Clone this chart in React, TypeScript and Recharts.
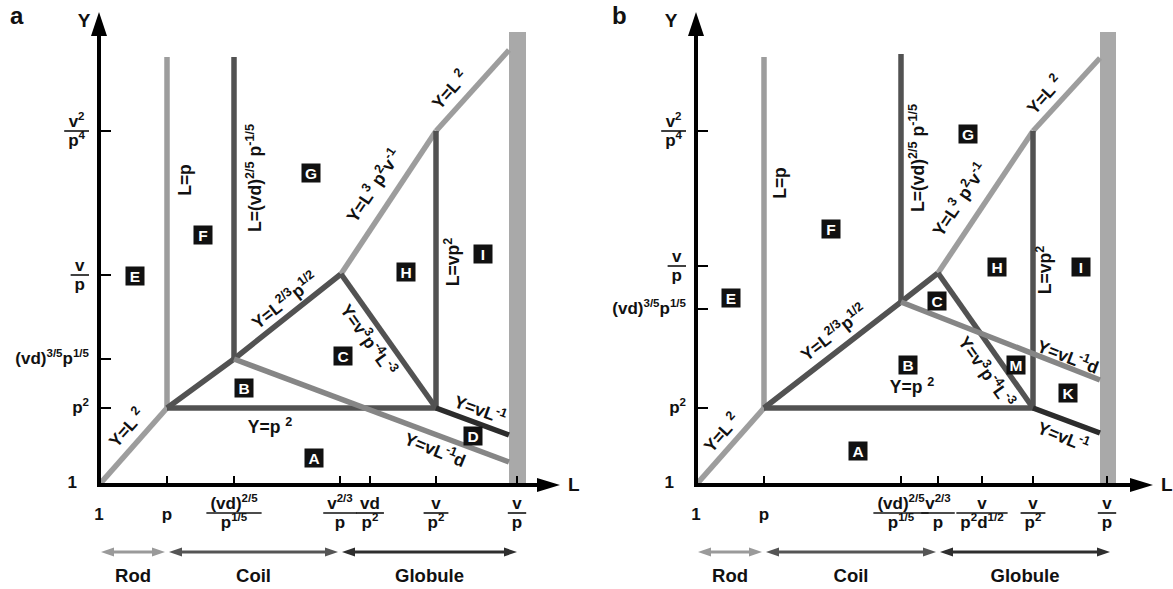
import React from 'react';
import { ComposedChart, Line, XAxis, YAxis, ReferenceArea, ReferenceDot, ReferenceLine } from 'recharts';

type Pt = { x: number; y: number };
type Tick = { v: number; text?: string; num?: string; den?: string };

const FONT = '"Liberation Sans", Arial, Helvetica, sans-serif';
const FS = 17;
const CURVE_FS = 17.5;

// ---------- panel a ----------
const xTicksA: Tick[] = [
  { v: 0, text: '1' },
  { v: 6.8, text: 'p' },
  { v: 13.5, num: '(vd)^{2/5}', den: 'p^{1/5}' },
  { v: 24.1, num: 'v^{2/3}', den: 'p' },
  { v: 27.1, num: 'vd', den: 'p^{2}' },
  { v: 33.7, num: 'v', den: 'p^{2}' },
  { v: 41.8, num: 'v', den: 'p' },
];
const yTicksA: Tick[] = [
  { v: 0, text: '1' },
  { v: 7.7, text: 'p^{2}' },
  { v: 12.6, text: '(vd)^{3/5}p^{1/5}' },
  { v: 21.0, num: 'v', den: 'p' },
  { v: 35.4, num: 'v^{2}', den: 'p^{4}' },
];

const rodA: Pt[] = [{ x: 0, y: 0 }, { x: 6.8, y: 7.7 }];
const lpA: Pt[] = [{ x: 6.8, y: 7.7 }, { x: 6.8, y: 42.8 }];
const lvdA: Pt[] = [{ x: 13.5, y: 12.6 }, { x: 13.5, y: 42.8 }];
const yp2A: Pt[] = [{ x: 6.8, y: 7.7 }, { x: 33.7, y: 7.7 }];
const coilTopA: Pt[] = [{ x: 6.8, y: 7.7 }, { x: 13.5, y: 12.6 }, { x: 24.2, y: 21.1 }];
const globTopA: Pt[] = [{ x: 24.2, y: 21.1 }, { x: 33.7, y: 35.4 }];
const rodTopA: Pt[] = [{ x: 33.7, y: 35.4 }, { x: 41.0, y: 43.5 }];
const collapseA: Pt[] = [{ x: 24.2, y: 21.1 }, { x: 33.7, y: 7.7 }];
const lvp2A: Pt[] = [{ x: 33.7, y: 7.7 }, { x: 33.7, y: 35.4 }];
const yvlA: Pt[] = [{ x: 33.7, y: 7.7 }, { x: 41.0, y: 5.0 }];
const yvldA: Pt[] = [{ x: 13.5, y: 12.6 }, { x: 41.0, y: 2.3 }];
const barA = [41.0, 42.7];

const regionsA = [
  { id: 'E', x: 3.6, y: 20.9 },
  { id: 'F', x: 10.4, y: 25.0 },
  { id: 'G', x: 21.2, y: 31.2 },
  { id: 'H', x: 30.7, y: 21.3 },
  { id: 'I', x: 38.4, y: 23.1 },
  { id: 'B', x: 14.5, y: 9.7 },
  { id: 'C', x: 24.4, y: 12.9 },
  { id: 'A', x: 21.5, y: 2.7 },
  { id: 'D', x: 37.4, y: 4.9 },
];
const curvesA = [
  { text: 'L=p', x: 8.6, y: 30.5, angle: -90 },
  { text: 'L=(vd)^{2/5} p^{-1/5}', x: 15.6, y: 30.7, angle: -90 },
  { text: 'Y=L^{2/3}p^{1/2}', x: 18.6, y: 18.4, angle: -38 },
  { text: 'Y=L ^{2}', x: 2.8, y: 5.7, angle: -48 },
  { text: 'Y=p ^{2}', x: 17.1, y: 5.8, angle: 0 },
  { text: 'Y=L^{3} p^{2}v^{-1}', x: 27.5, y: 29.9, angle: -56 },
  { text: 'Y=L ^{2}', x: 35.1, y: 39.5, angle: -48 },
  { text: 'L=vp^{2}', x: 35.4, y: 22.3, angle: -90 },
  { text: 'Y=v^{3}p^{-4}L^{-3}', x: 26.9, y: 14.5, angle: 55 },
  { text: 'Y=vL^{-1}', x: 38.1, y: 7.5, angle: 20 },
  { text: 'Y=vL^{-1}d', x: 33.6, y: 3.5, angle: 22 },
];
const phasesA = [
  { name: 'Rod', from: 0, to: 6.8 },
  { name: 'Coil', from: 6.8, to: 24.1 },
  { name: 'Globule', from: 24.1, to: 42.0 },
];

// ---------- panel b ----------
const xTicksB: Tick[] = [
  { v: 0, text: '1' },
  { v: 6.8, text: 'p' },
  { v: 20.5, num: '(vd)^{2/5}', den: 'p^{1/5}' },
  { v: 24.2, num: 'v^{2/3}', den: 'p' },
  { v: 28.6, num: 'v', den: 'p^{2}d^{1/2}' },
  { v: 33.7, num: 'v', den: 'p^{2}' },
  { v: 41.1, num: 'v', den: 'p' },
];
const yTicksB: Tick[] = [
  { v: 0, text: '1' },
  { v: 7.7, text: 'p^{2}' },
  { v: 17.6, text: '(vd)^{3/5}p^{1/5}' },
  { v: 21.9, num: 'v', den: 'p' },
  { v: 35.4, num: 'v^{2}', den: 'p^{4}' },
];

const rodB: Pt[] = [{ x: 0, y: 0 }, { x: 6.8, y: 7.7 }];
const lpB: Pt[] = [{ x: 6.8, y: 7.7 }, { x: 6.8, y: 42.8 }];
const lvdB: Pt[] = [{ x: 20.5, y: 18.3 }, { x: 20.5, y: 43.1 }];
const yp2B: Pt[] = [{ x: 6.8, y: 7.7 }, { x: 33.7, y: 7.7 }];
const coilTopB: Pt[] = [{ x: 6.8, y: 7.7 }, { x: 20.5, y: 18.3 }, { x: 24.2, y: 21.2 }];
const globTopB: Pt[] = [{ x: 24.2, y: 21.2 }, { x: 33.7, y: 35.4 }];
const rodTopB: Pt[] = [{ x: 33.7, y: 35.4 }, { x: 40.4, y: 42.7 }];
const collapseB: Pt[] = [{ x: 24.2, y: 21.2 }, { x: 33.7, y: 7.7 }];
const lvp2B: Pt[] = [{ x: 33.7, y: 7.7 }, { x: 33.7, y: 35.4 }];
const yvlB: Pt[] = [{ x: 33.7, y: 7.7 }, { x: 40.4, y: 5.2 }];
const yvldB: Pt[] = [{ x: 20.5, y: 18.3 }, { x: 40.4, y: 10.5 }];
const barB = [40.4, 42.0];

const regionsB = [
  { id: 'E', x: 3.5, y: 18.7 },
  { id: 'F', x: 13.5, y: 25.6 },
  { id: 'G', x: 27.2, y: 35.1 },
  { id: 'H', x: 30.1, y: 21.8 },
  { id: 'I', x: 38.5, y: 21.8 },
  { id: 'C', x: 24.1, y: 18.4 },
  { id: 'B', x: 21.2, y: 12.0 },
  { id: 'M', x: 32.0, y: 12.0 },
  { id: 'K', x: 37.2, y: 9.2 },
  { id: 'A', x: 16.2, y: 3.4 },
];
const curvesB = [
  { text: 'L=p', x: 8.4, y: 30.2, angle: -90 },
  { text: 'L=(vd)^{2/5} p^{-1/5}', x: 22.2, y: 32.7, angle: -90 },
  { text: 'Y=L^{2/3}p^{1/2}', x: 13.8, y: 15.2, angle: -38 },
  { text: 'Y=L ^{2}', x: 2.6, y: 5.2, angle: -48 },
  { text: 'Y=p ^{2}', x: 21.6, y: 9.8, angle: 0 },
  { text: 'Y=L^{3} p^{2}v^{-1}', x: 26.4, y: 28.5, angle: -56 },
  { text: 'Y=L ^{2}', x: 34.9, y: 39.0, angle: -48 },
  { text: 'L=vp^{2}', x: 34.9, y: 21.5, angle: -90 },
  { text: 'Y=v^{3}p^{-4}L^{-3}', x: 29.0, y: 11.3, angle: 55 },
  { text: 'Y=vL^{-1}d', x: 37.2, y: 12.8, angle: 21 },
  { text: 'Y=vL^{-1}', x: 36.7, y: 4.8, angle: 22 },
];
const phasesB = [
  { name: 'Rod', from: 0, to: 6.8 },
  { name: 'Coil', from: 6.8, to: 24.2 },
  { name: 'Globule', from: 24.2, to: 41.6 },
];

const TONES: Record<string, string> = {
  light: '#9d9d9d',
  mid: '#868686',
  dark: '#525252',
  black: '#2c2c2c',
};
const PHASE_COLORS: Record<string, string> = { Rod: '#9a9a9a', Coil: '#555555', Globule: '#2e2e2e' };

// ---------- text helpers ----------
const CW: Record<string, number> = {
  '(': 0.333, ')': 0.333, '/': 0.278, '-': 0.333, '=': 0.584, ' ': 0.278,
  v: 0.556, d: 0.611, p: 0.611, L: 0.611, Y: 0.667,
};

function parts(s: string) {
  return s.split(/(\^\{[^}]*\})/).filter(Boolean);
}

function textW(s: string, fs: number) {
  let w = 0;
  parts(s).forEach((p) => {
    const sup = p.startsWith('^{');
    const body = sup ? p.slice(2, -1) : p;
    const size = sup ? fs * 0.68 : fs;
    for (const ch of body) w += (CW[ch] ?? 0.556) * size;
  });
  return w;
}

function rich(s: string, fs: number, ratio = 0.68) {
  let raised = false;
  return parts(s).map((p, i) => {
    if (p.startsWith('^{')) {
      const el = (
        <tspan key={i} dy={raised ? 0 : -fs * 0.42} fontSize={fs * ratio}>
          {p.slice(2, -1)}
        </tspan>
      );
      raised = true;
      return el;
    }
    const el = (
      <tspan key={i} dy={raised ? fs * 0.42 : 0} fontSize={fs}>
        {p}
      </tspan>
    );
    raised = false;
    return el;
  });
}

const Fraction = ({ cx, barY, num, den }: { cx: number; barY: number; num: string; den: string }) => {
  const w = Math.max(textW(num, FS), textW(den, FS)) + 8;
  const common = { textAnchor: 'middle' as const, fontFamily: FONT, fontWeight: 'bold', fill: '#111' };
  return (
    <g>
      <text x={cx} y={barY - 4} {...common}>{rich(num, FS)}</text>
      <line x1={cx - w / 2} x2={cx + w / 2} y1={barY} y2={barY} stroke="#111" strokeWidth={1.6} />
      <text x={cx} y={barY + 15} {...common}>{rich(den, FS)}</text>
    </g>
  );
};

const XTick = ({ x, y, payload, ticks }: any) => {
  const t = ticks.find((k: Tick) => Math.abs(k.v - payload.value) < 1e-6);
  if (!t) return null;
  return (
    <g>
      {t.v > 0 && <line x1={x} x2={x} y1={y} y2={y - 9} stroke="#000" strokeWidth={2} />}
      {t.text ? (
        <text x={x} y={y + 35} textAnchor="middle" fontFamily={FONT} fontWeight="bold" fill="#111">
          {rich(t.text, FS)}
        </text>
      ) : (
        <Fraction cx={x} barY={y + 28} num={t.num} den={t.den} />
      )}
    </g>
  );
};

const YTick = ({ x, y, payload, ticks }: any) => {
  const t = ticks.find((k: Tick) => Math.abs(k.v - payload.value) < 1e-6);
  if (!t) return null;
  const right = x - 10;
  return (
    <g>
      {t.v > 0 && <line x1={x} x2={x + 12} y1={y} y2={y} stroke="#000" strokeWidth={2} />}
      {t.text ? (
        <text
          x={t.v === 0 ? x - 22 : right}
          y={y + (t.v === 0 ? 3 : 5)}
          textAnchor="end"
          fontFamily={FONT}
          fontWeight="bold"
          fill="#111"
        >
          {rich(t.text, FS)}
        </text>
      ) : (
        <Fraction
          cx={right - (Math.max(textW(t.num, FS), textW(t.den, FS)) + 8) / 2}
          barY={y}
          num={t.num}
          den={t.den}
        />
      )}
    </g>
  );
};

const RegionBox = ({ cx, cy, id }: any) => (
  <g>
    <rect x={cx - 9.5} y={cy - 9.5} width={19} height={19} fill="#111" />
    <text x={cx} y={cy + 5.5} textAnchor="middle" fill="#fff" fontFamily={FONT} fontWeight="bold" fontSize={15.5}>
      {id}
    </text>
  </g>
);

const CurveText = ({ cx, cy, text, angle }: any) => (
  <text
    x={cx}
    y={cy + 6}
    textAnchor="middle"
    transform={`rotate(${angle} ${cx} ${cy})`}
    fontFamily={FONT}
    fontWeight="bold"
    fill="#111"
  >
    {rich(text, CURVE_FS, 0.72)}
  </text>
);

const PhaseArrow = ({ x1, y1, x2, color, name }: any) => {
  const a = x1 + 2;
  const b = x2 - 2;
  return (
    <g>
      <line x1={a + 8} x2={b - 8} y1={y1} y2={y1} stroke={color} strokeWidth={3} />
      <polygon points={`${a},${y1} ${a + 13},${y1 - 4.5} ${a + 13},${y1 + 4.5}`} fill={color} />
      <polygon points={`${b},${y1} ${b - 13},${y1 - 4.5} ${b - 13},${y1 + 4.5}`} fill={color} />
      <text x={(a + b) / 2} y={y1 + 30} textAnchor="middle" fontFamily={FONT} fontWeight="bold" fontSize={18.5} fill="#111">
        {name}
      </text>
    </g>
  );
};

type PanelProps = {
  width: number;
  plotLeft: number;
  marginRight: number;
  xMax: number;
  yLabelDx: number;
  xTicks: Tick[];
  yTicks: Tick[];
  series: { pts: Pt[]; tone: string }[];
  bar: number[];
  regions: { id: string; x: number; y: number }[];
  curves: { text: string; x: number; y: number; angle: number }[];
  phases: { name: string; from: number; to: number }[];
};

const Panel = ({ width, plotLeft, marginRight, xMax, yLabelDx, xTicks, yTicks, series, bar, regions, curves, phases }: PanelProps) => {
  const axisLine = { stroke: '#000', strokeWidth: 4, strokeLinecap: 'square' };
  return (
    <ComposedChart width={width} height={589} margin={{ top: 35, right: marginRight, bottom: 74, left: 0 }}>
      <XAxis
        type="number"
        dataKey="x"
        domain={[0, xMax]}
        allowDataOverflow
        ticks={xTicks.map((t) => t.v)}
        interval={0}
        tickSize={0}
        tickMargin={0}
        tickLine={false}
        axisLine={axisLine as any}
        height={30}
        tick={(p: any) => <XTick {...p} ticks={xTicks} />}
      />
      <YAxis
        type="number"
        dataKey="y"
        domain={[0, 45]}
        allowDataOverflow
        ticks={yTicks.map((t) => t.v)}
        interval={0}
        tickSize={0}
        tickMargin={0}
        tickLine={false}
        axisLine={axisLine as any}
        width={plotLeft}
        tick={(p: any) => <YTick {...p} ticks={yTicks} />}
      />
      <ReferenceArea x1={bar[0]} x2={bar[1]} y1={0} y2={45.3} fill="#a9a9a9" fillOpacity={1} stroke="none" ifOverflow="visible" />
      {series.map((s, i) => (
        <Line
          key={i}
          data={s.pts}
          dataKey="y"
          type="linear"
          stroke={TONES[s.tone]}
          strokeWidth={5.5}
          strokeLinejoin="round"
          dot={false}
          activeDot={false}
          legendType="none"
          isAnimationActive={false}
        />
      ))}
      <ReferenceDot
        x={0}
        y={45}
        ifOverflow="visible"
        shape={(p: any) => (
          <g>
            <polygon points={`${p.cx},${p.cy - 23} ${p.cx - 8},${p.cy + 1} ${p.cx + 8},${p.cy + 1}`} fill="#000" />
            <text x={p.cx + yLabelDx} y={p.cy - 8} textAnchor="middle" fontFamily={FONT} fontWeight="bold" fontSize={19} fill="#111">
              Y
            </text>
          </g>
        )}
      />
      <ReferenceDot
        x={xMax}
        y={0}
        ifOverflow="visible"
        shape={(p: any) => (
          <g>
            <polygon points={`${p.cx + 22},${p.cy} ${p.cx - 1},${p.cy - 7} ${p.cx - 1},${p.cy + 7}`} fill="#000" />
            <text x={p.cx + 30} y={p.cy + 6} fontFamily={FONT} fontWeight="bold" fontSize={19} fill="#111">
              L
            </text>
          </g>
        )}
      />
      {curves.map((c, i) => (
        <ReferenceDot key={`c${i}`} x={c.x} y={c.y} ifOverflow="visible" shape={(p: any) => <CurveText cx={p.cx} cy={p.cy} text={c.text} angle={c.angle} />} />
      ))}
      {regions.map((r) => (
        <ReferenceDot key={r.id} x={r.x} y={r.y} ifOverflow="visible" shape={(p: any) => <RegionBox cx={p.cx} cy={p.cy} id={r.id} />} />
      ))}
      {phases.map((ph) => (
        <ReferenceLine
          key={ph.name}
          segment={[{ x: ph.from, y: -6.7 }, { x: ph.to, y: -6.7 }]}
          ifOverflow="visible"
          shape={(p: any) => <PhaseArrow {...p} color={PHASE_COLORS[ph.name]} name={ph.name} />}
        />
      ))}
    </ComposedChart>
  );
};

// draw order: dark boundaries first, the mid-grey Y=vL^-1 d line crosses over them
const seriesA = [
  { pts: rodA, tone: 'light' },
  { pts: lpA, tone: 'light' },
  { pts: lvdA, tone: 'dark' },
  { pts: yp2A, tone: 'dark' },
  { pts: coilTopA, tone: 'dark' },
  { pts: globTopA, tone: 'light' },
  { pts: rodTopA, tone: 'light' },
  { pts: collapseA, tone: 'dark' },
  { pts: lvp2A, tone: 'dark' },
  { pts: yvlA, tone: 'black' },
  { pts: yvldA, tone: 'mid' },
];
const seriesB = [
  { pts: rodB, tone: 'light' },
  { pts: lpB, tone: 'light' },
  { pts: lvdB, tone: 'dark' },
  { pts: yp2B, tone: 'dark' },
  { pts: coilTopB, tone: 'dark' },
  { pts: globTopB, tone: 'light' },
  { pts: rodTopB, tone: 'light' },
  { pts: collapseB, tone: 'dark' },
  { pts: lvp2B, tone: 'dark' },
  { pts: yvlB, tone: 'black' },
  { pts: yvldB, tone: 'mid' },
];

export default function App() {
  const letter = { position: 'absolute' as const, top: 2, fontFamily: FONT, fontWeight: 'bold', fontSize: 24, color: '#111' };
  return (
    <div style={{ position: 'absolute', left: 0, top: 0, width: 1173, height: 589, background: '#fff', fontFamily: FONT }}>
      <div style={{ position: 'absolute', left: 0, top: 0 }}>
        <Panel
          width={586}
          plotLeft={99}
          marginRight={48}
          xMax={43.9}
          yLabelDx={-15}
          xTicks={xTicksA}
          yTicks={yTicksA}
          series={seriesA}
          bar={barA}
          regions={regionsA}
          curves={curvesA}
          phases={phasesA}
        />
      </div>
      <div style={{ position: 'absolute', left: 586, top: 0 }}>
        <Panel
          width={587}
          plotLeft={110}
          marginRight={42}
          xMax={43.5}
          yLabelDx={-25}
          xTicks={xTicksB}
          yTicks={yTicksB}
          series={seriesB}
          bar={barB}
          regions={regionsB}
          curves={curvesB}
          phases={phasesB}
        />
      </div>
      <div style={{ ...letter, left: 10 }}>a</div>
      <div style={{ ...letter, left: 612 }}>b</div>
    </div>
  );
}
